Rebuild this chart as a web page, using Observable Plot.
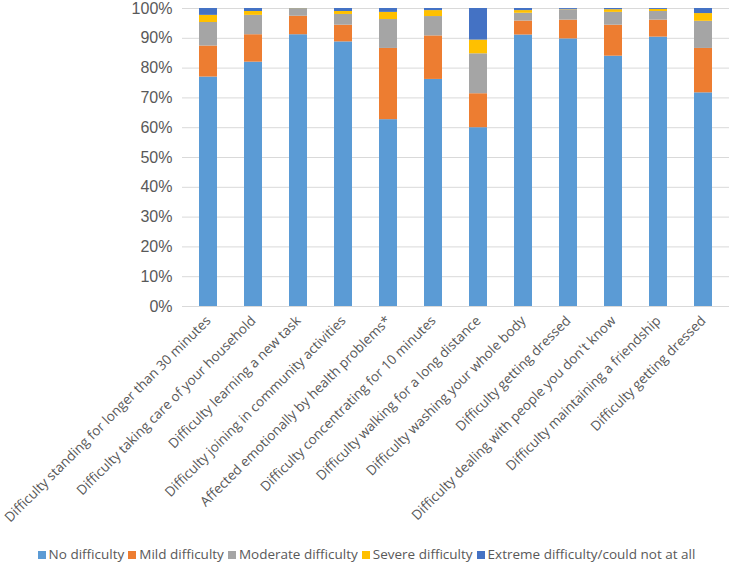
<!DOCTYPE html>
<html>
<head>
<meta charset="utf-8">
<script src="https://cdn.jsdelivr.net/npm/d3@7"></script>
<script src="https://cdn.jsdelivr.net/npm/@observablehq/plot@0.6"></script>
<style>
body { margin: 0; background: #fff; }
#legend { font-family: "Open Sans", sans-serif; font-size: 13.5px; color: #595959; text-align: center; margin-top: 15px; white-space: nowrap; }
#legend span.sw { display: inline-block; width: 8px; height: 8px; margin: 0 3px 0 4px; }
</style>
</head>
<body>
<div id="chart"></div>
<div id="legend"></div>
<script>
const categories = [
  "Difficulty standing for longer than 30 minutes",
  "Difficulty taking care of your household",
  "Difficulty learning a new task",
  "Difficulty joining in community activities",
  "Affected emotionally by health problems*",
  "Difficulty concentrating for 10 minutes",
  "Difficulty walking for a long distance",
  "Difficulty washing your whole body",
  "Difficulty getting dressed",
  "Difficulty dealing with people you don't know",
  "Difficulty maintaining a friendship",
  "Difficulty getting dressed"
];
const seriesNames = ["No difficulty", "Mild difficulty", "Moderate difficulty", "Severe difficulty", "Extreme difficulty/could not at all"];
const noDifficulty       = [77.0, 82.0, 91.2, 88.8, 62.7, 76.2, 60.0, 91.1, 89.8, 84.0, 90.4, 71.7];
const mildDifficulty     = [10.4,  9.2,  6.2,  5.6, 23.9, 14.6, 11.4,  4.7,  6.3, 10.4,  5.7, 14.9];
const moderateDifficulty = [ 7.9,  6.5,  2.4,  3.6,  9.7,  6.5, 13.4,  2.6,  3.5,  4.3,  2.9,  9.1];
const severeDifficulty   = [ 2.4,  1.3,  0.1,  1.0,  2.4,  2.0,  4.6,  0.9,  0.1,  0.9,  0.7,  2.6];
const extremeDifficulty  = [ 2.3,  1.0,  0.1,  1.0,  1.3,  0.7, 10.6,  0.7,  0.3,  0.4,  0.3,  1.7];
const seriesValues = [noDifficulty, mildDifficulty, moderateDifficulty, severeDifficulty, extremeDifficulty];
const colors = ["#5B9BD5", "#ED7D31", "#A5A5A5", "#FFC000", "#4472C4"];
const yTicks = [0, 10, 20, 30, 40, 50, 60, 70, 80, 90, 100];

const rows = [];
seriesNames.forEach((s, si) => {
  categories.forEach((c, i) => rows.push({i, series: s, value: seriesValues[si][i]}));
});

const chart = Plot.plot({
  width: 729,
  height: 530,
  marginLeft: 182,
  marginRight: 0,
  marginTop: 8,
  marginBottom: 224,
  x: {domain: d3.range(categories.length), paddingInner: 0.6, paddingOuter: 0.3, axis: null},
  y: {domain: [0, 100], axis: null},
  color: {domain: seriesNames, range: colors},
  marks: [
    Plot.gridY(yTicks, {stroke: "#d9d9d9", strokeOpacity: 1}),
    Plot.barY(rows, {x: "i", y: "value", fill: "series", order: seriesNames}),
    Plot.axisY(yTicks, {tickSize: 0, tickPadding: 10, tickFormat: d => d + "%", fontSize: 16, fill: "#595959", fontFamily: "Liberation Sans, Arial, sans-serif", label: null}),
    Plot.axisX(d3.range(categories.length), {tickSize: 0, tickPadding: 12, tickRotate: -45, tickFormat: i => categories[i], fontSize: 13.5, fill: "#595959", fontFamily: "Open Sans, sans-serif", label: null})
  ]
});
document.getElementById("chart").appendChild(chart);

const legend = document.getElementById("legend");
seriesNames.forEach((s, si) => {
  const sw = document.createElement("span");
  sw.className = "sw";
  sw.style.background = colors[si];
  legend.appendChild(sw);
  legend.appendChild(document.createTextNode(s));
});
</script>
</body>
</html>
